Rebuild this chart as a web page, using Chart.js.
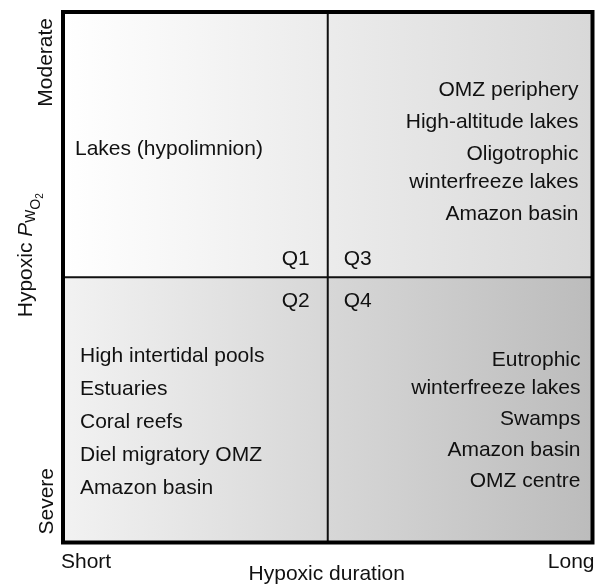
<!DOCTYPE html>
<html>
<head>
<meta charset="utf-8">
<script src="https://cdn.jsdelivr.net/npm/chart.js@4.4.1/dist/chart.umd.min.js"></script>
<style>
  html, body { margin: 0; padding: 0; background: #fff; }
  #wrap { width: 599px; height: 586px; position: relative; }
</style>
</head>
<body>
<div id="wrap"><canvas id="chart"></canvas></div>
<script>
// quadrant labels and the habitats listed in each
const quadrants   = ['Q1', 'Q2', 'Q3', 'Q4'];
const q1Habitats  = ['Lakes (hypolimnion)'];
const q2Habitats  = ['High intertidal pools', 'Estuaries', 'Coral reefs', 'Diel migratory OMZ', 'Amazon basin'];
const q3Habitats  = ['OMZ periphery', 'High-altitude lakes', ['Oligotrophic', 'winterfreeze lakes'], 'Amazon basin'];
const q4Habitats  = [['Eutrophic', 'winterfreeze lakes'], 'Swamps', 'Amazon basin', 'OMZ centre'];
const durationEnds = ['Short', 'Long'];
const pwo2Ends     = ['Severe', 'Moderate'];
const xTitle       = 'Hypoxic duration';
const yTitleParts  = ['Hypoxic ', 'P', 'w', 'O', '2'];

const FONT = "'Liberation Sans', Arial, Helvetica, sans-serif";
const INK  = '#111';

function drawList(ctx, items, x, y0, gap, inner) {
  let y = y0;
  items.forEach(it => {
    const lines = Array.isArray(it) ? it : [it];
    lines.forEach((l, i) => { if (i > 0) y += inner; ctx.fillText(l, x, y); });
    y += gap;
  });
}

const quadPlugin = {
  id: 'quads',
  beforeDraw(chart) {
    const {ctx, scales: {x, y}} = chart;
    const L = x.getPixelForValue(0), M = x.getPixelForValue(1), R = x.getPixelForValue(2);
    const T = y.getPixelForValue(2), C = y.getPixelForValue(1), B = y.getPixelForValue(0);
    ctx.save();
    const gTop = ctx.createLinearGradient(L, 0, R, 0);
    gTop.addColorStop(0, '#ffffff'); gTop.addColorStop(1, '#d8d8d8');
    ctx.fillStyle = gTop;
    ctx.fillRect(L, T, R - L, C - T);
    const gBot = ctx.createLinearGradient(L, 0, R, 0);
    gBot.addColorStop(0, '#f2f2f2'); gBot.addColorStop(1, '#bcbcbc');
    ctx.fillStyle = gBot;
    ctx.fillRect(L, C, R - L, B - C);
    ctx.restore();
  },
  afterDraw(chart) {
    const {ctx, scales: {x, y}} = chart;
    const L = x.getPixelForValue(0), M = x.getPixelForValue(1), R = x.getPixelForValue(2);
    const T = y.getPixelForValue(2), C = y.getPixelForValue(1), B = y.getPixelForValue(0);
    ctx.save();

    // dividers
    ctx.strokeStyle = INK; ctx.lineWidth = 2;
    ctx.beginPath();
    ctx.moveTo(M, T); ctx.lineTo(M, B);
    ctx.moveTo(L, C); ctx.lineTo(R, C);
    ctx.stroke();
    // outer frame
    ctx.lineWidth = 4; ctx.strokeStyle = '#000';
    ctx.strokeRect(L, T, R - L, B - C + (C - T));

    ctx.fillStyle = INK;
    ctx.font = '21px ' + FONT;
    ctx.textBaseline = 'alphabetic';

    // quadrant tags
    ctx.textAlign = 'right';
    ctx.fillText(quadrants[0], M - 18, C - 12);
    ctx.fillText(quadrants[1], M - 18, C + 30);
    ctx.textAlign = 'left';
    ctx.fillText(quadrants[2], M + 16, C - 12);
    ctx.fillText(quadrants[3], M + 16, C + 30);

    // habitats
    ctx.textAlign = 'left';
    drawList(ctx, q1Habitats, L + 12, T + 143, 33, 28);
    drawList(ctx, q2Habitats, L + 17, C + 85, 33, 28);
    ctx.textAlign = 'right';
    drawList(ctx, q3Habitats, R - 14, T + 84, 32, 28);
    drawList(ctx, q4Habitats, R - 12, C + 89, 31, 28);

    // x axis
    ctx.textAlign = 'left';
    ctx.fillText(durationEnds[0], L - 2, B + 25);
    ctx.textAlign = 'right';
    ctx.fillText(durationEnds[1], R + 2, B + 25);
    ctx.textAlign = 'center';
    ctx.fillText(xTitle, M - 1, B + 37);

    // y axis ends (rotated)
    ctx.save();
    ctx.translate(L - 11, T + 6);
    ctx.rotate(-Math.PI / 2);
    ctx.textAlign = 'right';
    ctx.fillText(pwo2Ends[1], 0, 0);
    ctx.restore();
    ctx.save();
    ctx.translate(L - 10, B - 8);
    ctx.rotate(-Math.PI / 2);
    ctx.textAlign = 'left';
    ctx.fillText(pwo2Ends[0], 0, 0);
    ctx.restore();

    // y title with subscripts
    const styles = [
      {f: '21px ' + FONT, dy: 0},
      {f: 'italic 21px ' + FONT, dy: 0},
      {f: '18px ' + FONT, dy: 3},
      {f: '14px ' + FONT, dy: 8},
      {f: '10px ' + FONT, dy: 11}
    ];
    let total = 0;
    yTitleParts.forEach((p, i) => { ctx.font = styles[i].f; total += ctx.measureText(p).width; });
    ctx.save();
    ctx.translate(L - 31, C - 22);
    ctx.rotate(-Math.PI / 2);
    ctx.textAlign = 'left';
    let cx = -total / 2;
    yTitleParts.forEach((p, i) => {
      ctx.font = styles[i].f;
      ctx.fillText(p, cx, styles[i].dy);
      cx += ctx.measureText(p).width;
    });
    ctx.restore();

    ctx.restore();
  }
};

new Chart(document.getElementById('chart'), {
  type: 'scatter',
  data: { datasets: [] },
  options: {
    responsive: true,
    maintainAspectRatio: false,
    animation: false,
    layout: { padding: { left: 63, right: 6.5, top: 12, bottom: 43.5 } },
    plugins: { legend: { display: false }, tooltip: { enabled: false } },
    scales: {
      x: { type: 'linear', min: 0, max: 2, display: false },
      y: { type: 'linear', min: 0, max: 2, display: false }
    }
  },
  plugins: [quadPlugin]
});
</script>
</body>
</html>
